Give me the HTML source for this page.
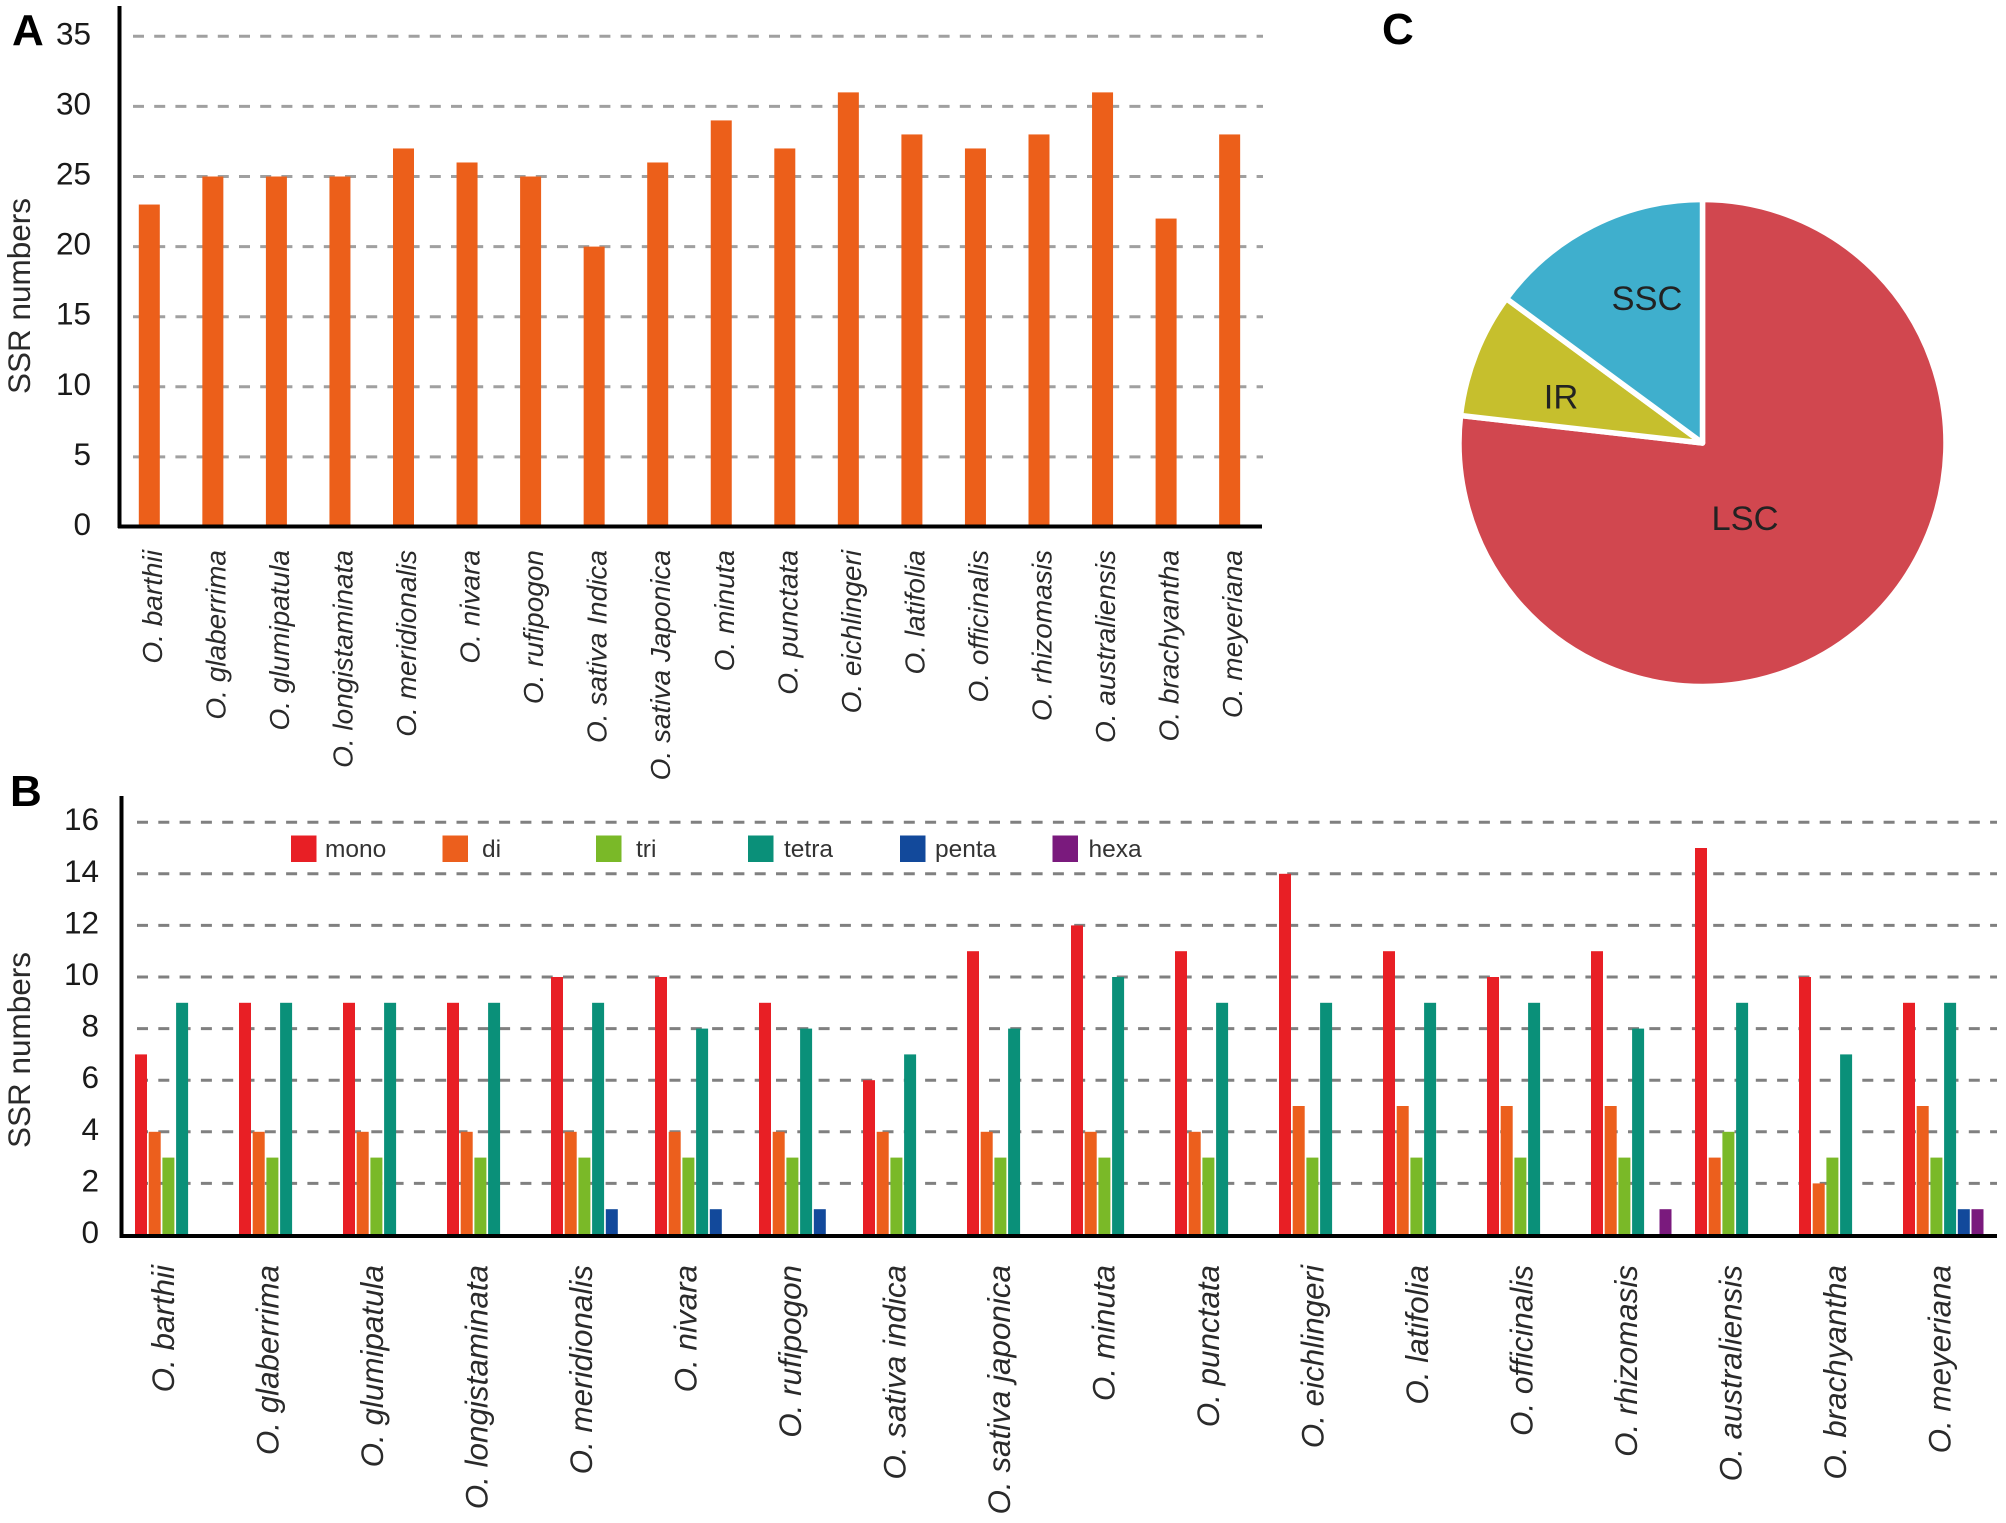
<!DOCTYPE html>
<html lang="en">
<head>
<meta charset="utf-8">
<title>SSR numbers in Oryza chloroplast genomes</title>
<style>
html,body{margin:0;padding:0;background:#fff;}
svg{display:block;font-family:"Liberation Sans",sans-serif;}
</style>
</head>
<body>
<svg id="figure" width="2006" height="1523" viewBox="0 0 2006 1523" xmlns="http://www.w3.org/2000/svg">
  <rect x="0" y="0" width="2006" height="1523" fill="#ffffff"/>
  <text x="12" y="45" font-size="44" font-weight="bold" fill="#000">A</text>
  <text x="10" y="806" font-size="44" font-weight="bold" fill="#000">B</text>
  <text x="1382" y="44" font-size="44" font-weight="bold" fill="#000">C</text>
  <g id="chartA"></g>
  <g id="chartB"></g>
  <g id="chartC"></g>
</svg>
<script>
const speciesA = ["O. barthii","O. glaberrima","O. glumipatula","O. longistaminata","O. meridionalis","O. nivara","O. rufipogon","O. sativa Indica","O. sativa Japonica","O. minuta","O. punctata","O. eichlingeri","O. latifolia","O. officinalis","O. rhizomasis","O. australiensis","O. brachyantha","O. meyeriana"];
const totals = [23,25,25,25,27,26,25,20,26,29,27,31,28,27,28,31,22,28];
const ticksA = [0,5,10,15,20,25,30,35];

const speciesB = ["O. barthii","O. glaberrima","O. glumipatula","O. longistaminata","O. meridionalis","O. nivara","O. rufipogon","O. sativa indica","O. sativa japonica","O. minuta","O. punctata","O. eichlingeri","O. latifolia","O. officinalis","O. rhizomasis","O. australiensis","O. brachyantha","O. meyeriana"];
const mono  = [7,9,9,9,10,10,9,6,11,12,11,14,11,10,11,15,10,9];
const di    = [4,4,4,4,4,4,4,4,4,4,4,5,5,5,5,3,2,5];
const tri   = [3,3,3,3,3,3,3,3,3,3,3,3,3,3,3,4,3,3];
const tetra = [9,9,9,9,9,8,8,7,8,10,9,9,9,9,8,9,7,9];
const penta = [0,0,0,0,1,1,1,0,0,0,0,0,0,0,0,0,0,1];
const hexa  = [0,0,0,0,0,0,0,0,0,0,0,0,0,0,1,0,0,1];
const seriesNames = ["mono","di","tri","tetra","penta","hexa"];
const ticksB = [0,2,4,6,8,10,12,14,16];

const regions = ["LSC","IR","SSC"];
const regionShares = [76.8,8.3,14.9];

const NS = "http://www.w3.org/2000/svg";
function mk(parent, tag, attrs, txt){
  const el = document.createElementNS(NS, tag);
  for (const k in attrs) el.setAttribute(k, attrs[k]);
  if (txt !== undefined) el.textContent = txt;
  parent.appendChild(el);
  return el;
}

/* ---------- Panel A ---------- */
(function(){
  const g = document.getElementById("chartA");
  const yA = v => 527 - v * 14.02;
  const xA = i => 149.3 + i * 63.55;
  ticksA.forEach(function(t){
    if (t > 0) {
      const line = mk(g, "line", {x1:133, x2:1263, y1:yA(t), y2:yA(t), stroke:"#a0a0a0", "stroke-width":3, "stroke-dasharray":"11 10.2"});
      
      
    }
    const lab = mk(g, "text", {x:91, y:yA(t)+8, "text-anchor":"end", "font-size":31.5, fill:"#1a1a1a"}, String(t));
    
    
  });
  totals.forEach(function(v,i){
    const bar = mk(g, "rect", {x:xA(i)-10.5, y:yA(v), width:21, height:yA(0)-yA(v), fill:"#ec5f1a"});
    
    
    const bx = xA(i) + 12.5;
    const lab = mk(g, "text", {x:bx, y:550, transform:"rotate(-90 "+bx+" 550)", "text-anchor":"end", "font-size":28, "font-style":"italic", fill:"#2a2a2a"}, speciesA[i]);
    
    
  });
  const yAxis = mk(g, "line", {x1:119.5, x2:119.5, y1:6, y2:528, stroke:"#000", "stroke-width":4});
  
  
  const xAxis = mk(g, "line", {x1:118, x2:1262, y1:526.5, y2:526.5, stroke:"#000", "stroke-width":4});
  
  
  const title = mk(g, "text", {x:30, y:296, transform:"rotate(-90 30 296)", "text-anchor":"middle", "font-size":31.5, fill:"#2a2a2a"}, "SSR numbers");
  
  
})();

/* ---------- Panel B ---------- */
(function(){
  const g = document.getElementById("chartB");
  const yB = v => 1235 - v * 25.8;
  const xB = i => 135 + i * 104;
  const allSeries = [mono, di, tri, tetra, penta, hexa];
  const colors = ["#e81f25","#ec5f1d","#7ab928","#0a9079","#12499b","#7a1a7d"];
  const slot = 13.7, barW = 12;
  ticksB.forEach(function(t){
    if (t > 0) {
      const line = mk(g, "line", {x1:137, x2:1997, y1:yB(t), y2:yB(t), stroke:"#808080", "stroke-width":3, "stroke-dasharray":"11 10.3"});
      
      
    }
    const lab = mk(g, "text", {x:99, y:yB(t)+8, "text-anchor":"end", "font-size":31.5, fill:"#1a1a1a"}, String(t));
    
    
  });
  allSeries.forEach(function(vals,s){
    vals.forEach(function(v,i){
      if (v <= 0) return;
      const bar = mk(g, "rect", {x:xB(i)+s*slot, y:yB(v), width:barW, height:yB(0)-yB(v), fill:colors[s]});
      
      
    });
  });
  speciesB.forEach(function(name,i){
    const bx = 174 + i * 104.5;
    const lab = mk(g, "text", {x:bx, y:1265, transform:"rotate(-90 "+bx+" 1265)", "text-anchor":"end", "font-size":31.4, "font-style":"italic", fill:"#2a2a2a"}, name);
    
    
  });
  const yAxis = mk(g, "line", {x1:121.5, x2:121.5, y1:796, y2:1238, stroke:"#000", "stroke-width":4});
  
  
  const xAxis = mk(g, "line", {x1:120, x2:1997, y1:1236, y2:1236, stroke:"#000", "stroke-width":4});
  
  
  const title = mk(g, "text", {x:30, y:1050, transform:"rotate(-90 30 1050)", "text-anchor":"middle", "font-size":31.5, fill:"#2a2a2a"}, "SSR numbers");
  
  

  const legendX = [291, 442.5, 596, 748, 900, 1052.5];
  const legendTextX = [325, 482, 636, 784, 935, 1088.5];
  seriesNames.forEach(function(name,s){
    const sw = mk(g, "rect", {x:legendX[s], y:835.5, width:25.5, height:26.5, fill:colors[s]});
    
    
    const lab = mk(g, "text", {x:legendTextX[s], y:857, "font-size":24.5, fill:"#333"}, name);
    
    
  });
})();

/* ---------- Panel C ---------- */
(function(){
  const g = document.getElementById("chartC");
  const cx = 1702.5, cy = 443, r = 243.5;
  const colors = ["#d1474f","#c6bf2d","#3fafcd"];
  const labelPos = [[1745,530],[1561,408.5],[1647,310]];
  const total = regionShares.reduce((a,b)=>a+b,0);
  let a0 = 0;
  regionShares.forEach(function(v,i){
    const a1 = a0 + v/total*2*Math.PI;
    const p = (a) => [cx + r*Math.sin(a), cy - r*Math.cos(a)];
    const s = p(a0), e = p(a1);
    const large = (a1-a0) > Math.PI ? 1 : 0;
    const d = "M"+cx+" "+cy+"L"+s[0]+" "+s[1]+"A"+r+" "+r+" 0 "+large+" 1 "+e[0]+" "+e[1]+"Z";
    const slice = mk(g, "path", {d:d, fill:colors[i], stroke:"#fff", "stroke-width":5.5, "stroke-linejoin":"round"});
    
    
    a0 = a1;
  });
  regions.forEach(function(name,i){
    const lab = mk(g, "text", {x:labelPos[i][0], y:labelPos[i][1], "text-anchor":"middle", "font-size":34.5, fill:"#222"}, name);
    
    
  });
})();
</script>
</body>
</html>
